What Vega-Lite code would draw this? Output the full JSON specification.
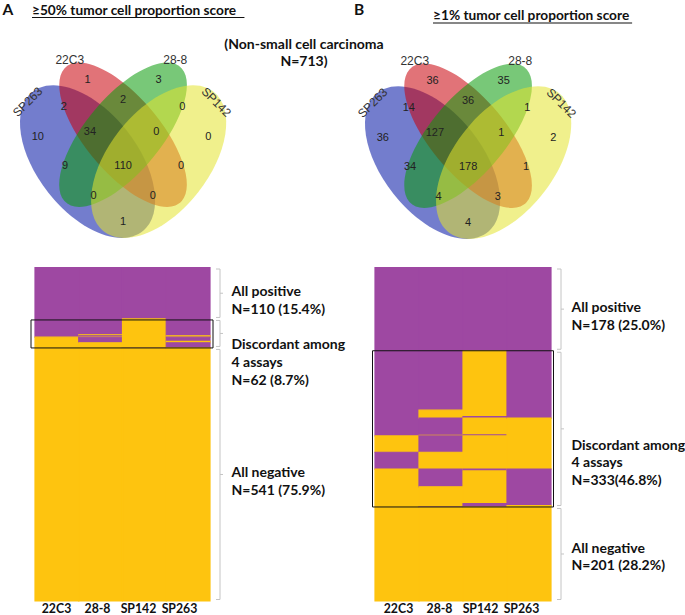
{
  "$schema": "https://vega.github.io/schema/vega-lite/v6.json",
  "width": 685,
  "height": 615,
  "autosize": {"type": "fit", "contains": "padding"},
  "padding": 0,
  "background": "white",
  "config": {"view": {"stroke": null}},
  "datasets": {
    "ellipses": [
      {"set": "SP263", "u": 0.35, "v": 0.47},
      {"set": "22C3", "u": 0.5, "v": 0.57},
      {"set": "28-8", "u": 0.5, "v": 0.57},
      {"set": "SP142", "u": 0.65, "v": 0.47}
    ],
    "counts": [
      {"region": "SP263 only", "u": 0.14, "v": 0.56, "a": 10, "b": 36},
      {"region": "22C3 only", "u": 0.35, "v": 0.775, "a": 1, "b": 36},
      {"region": "28-8 only", "u": 0.65, "v": 0.775, "a": 3, "b": 35},
      {"region": "SP142 only", "u": 0.86, "v": 0.56, "a": 0, "b": 2},
      {"region": "SP263+22C3", "u": 0.25, "v": 0.675, "a": 2, "b": 14},
      {"region": "22C3+28-8", "u": 0.5, "v": 0.7, "a": 2, "b": 36},
      {"region": "28-8+SP142", "u": 0.75, "v": 0.675, "a": 0, "b": 1},
      {"region": "SP263+22C3+28-8", "u": 0.36, "v": 0.582, "a": 34, "b": 127},
      {"region": "22C3+28-8+SP142", "u": 0.64, "v": 0.582, "a": 0, "b": 1},
      {"region": "SP263+28-8", "u": 0.255, "v": 0.452, "a": 9, "b": 34},
      {"region": "all four", "u": 0.5, "v": 0.453, "a": 110, "b": 178},
      {"region": "22C3+SP142", "u": 0.745, "v": 0.452, "a": 0, "b": 1},
      {"region": "SP263+28-8+SP142", "u": 0.375, "v": 0.34, "a": 0, "b": 4},
      {"region": "SP263+22C3+SP142", "u": 0.625, "v": 0.34, "a": 0, "b": 3},
      {"region": "SP263+SP142", "u": 0.5, "v": 0.245, "a": 1, "b": 4}
    ],
    "setLabels": [
      {"name": "22C3", "u": 0.275, "v": 0.85},
      {"name": "28-8", "u": 0.72, "v": 0.85},
      {"name": "SP263", "u": 0.097, "v": 0.692},
      {"name": "SP142", "u": 0.893, "v": 0.692}
    ],
    "cells": [
      {"panel": "A", "assay": "22C3", "start": 0, "end": 149, "status": "positive"},
      {"panel": "A", "assay": "22C3", "start": 149, "end": 713, "status": "negative"},
      {"panel": "A", "assay": "28-8", "start": 0, "end": 144, "status": "positive"},
      {"panel": "A", "assay": "28-8", "start": 144, "end": 146, "status": "negative"},
      {"panel": "A", "assay": "28-8", "start": 146, "end": 148, "status": "positive"},
      {"panel": "A", "assay": "28-8", "start": 148, "end": 149, "status": "negative"},
      {"panel": "A", "assay": "28-8", "start": 149, "end": 161, "status": "positive"},
      {"panel": "A", "assay": "28-8", "start": 161, "end": 713, "status": "negative"},
      {"panel": "A", "assay": "SP142", "start": 0, "end": 110, "status": "positive"},
      {"panel": "A", "assay": "SP142", "start": 110, "end": 171, "status": "negative"},
      {"panel": "A", "assay": "SP142", "start": 171, "end": 172, "status": "positive"},
      {"panel": "A", "assay": "SP142", "start": 172, "end": 713, "status": "negative"},
      {"panel": "A", "assay": "SP263", "start": 0, "end": 146, "status": "positive"},
      {"panel": "A", "assay": "SP263", "start": 146, "end": 149, "status": "negative"},
      {"panel": "A", "assay": "SP263", "start": 149, "end": 158, "status": "positive"},
      {"panel": "A", "assay": "SP263", "start": 158, "end": 161, "status": "negative"},
      {"panel": "A", "assay": "SP263", "start": 161, "end": 172, "status": "positive"},
      {"panel": "A", "assay": "SP263", "start": 172, "end": 713, "status": "negative"},
      {"panel": "B", "assay": "22C3", "start": 0, "end": 360, "status": "positive"},
      {"panel": "B", "assay": "22C3", "start": 360, "end": 395, "status": "negative"},
      {"panel": "B", "assay": "22C3", "start": 395, "end": 431, "status": "positive"},
      {"panel": "B", "assay": "22C3", "start": 431, "end": 713, "status": "negative"},
      {"panel": "B", "assay": "28-8", "start": 0, "end": 305, "status": "positive"},
      {"panel": "B", "assay": "28-8", "start": 305, "end": 322, "status": "negative"},
      {"panel": "B", "assay": "28-8", "start": 322, "end": 359, "status": "positive"},
      {"panel": "B", "assay": "28-8", "start": 359, "end": 360, "status": "negative"},
      {"panel": "B", "assay": "28-8", "start": 360, "end": 395, "status": "positive"},
      {"panel": "B", "assay": "28-8", "start": 395, "end": 431, "status": "negative"},
      {"panel": "B", "assay": "28-8", "start": 431, "end": 469, "status": "positive"},
      {"panel": "B", "assay": "28-8", "start": 469, "end": 511, "status": "negative"},
      {"panel": "B", "assay": "28-8", "start": 511, "end": 512, "status": "positive"},
      {"panel": "B", "assay": "28-8", "start": 512, "end": 713, "status": "negative"},
      {"panel": "B", "assay": "SP142", "start": 0, "end": 178, "status": "positive"},
      {"panel": "B", "assay": "SP142", "start": 178, "end": 319, "status": "negative"},
      {"panel": "B", "assay": "SP142", "start": 319, "end": 322, "status": "positive"},
      {"panel": "B", "assay": "SP142", "start": 322, "end": 358, "status": "negative"},
      {"panel": "B", "assay": "SP142", "start": 358, "end": 360, "status": "positive"},
      {"panel": "B", "assay": "SP142", "start": 360, "end": 431, "status": "negative"},
      {"panel": "B", "assay": "SP142", "start": 431, "end": 435, "status": "positive"},
      {"panel": "B", "assay": "SP142", "start": 435, "end": 505, "status": "negative"},
      {"panel": "B", "assay": "SP142", "start": 505, "end": 512, "status": "positive"},
      {"panel": "B", "assay": "SP142", "start": 512, "end": 713, "status": "negative"},
      {"panel": "B", "assay": "SP263", "start": 0, "end": 322, "status": "positive"},
      {"panel": "B", "assay": "SP263", "start": 322, "end": 431, "status": "negative"},
      {"panel": "B", "assay": "SP263", "start": 431, "end": 509, "status": "positive"},
      {"panel": "B", "assay": "SP263", "start": 509, "end": 713, "status": "negative"}
    ],
    "groups": [
      {"panel": "A", "group": "pos", "start": 0, "end": 110, "mid": 55, "labelAt": 52.4, "label": ["All positive", "N=110 (15.4%)"]},
      {"panel": "A", "group": "disc", "start": 110, "end": 172, "mid": 141, "labelAt": 165.7, "label": ["Discordant among", "4 assays", "N=62 (8.7%)"]},
      {"panel": "A", "group": "neg", "start": 172, "end": 713, "mid": 442.5, "labelAt": 440, "label": ["All negative", "N=541 (75.9%)"]},
      {"panel": "B", "group": "pos", "start": 0, "end": 178, "mid": 89, "labelAt": 86.6, "label": ["All positive", "N=178 (25.0%)"]},
      {"panel": "B", "group": "disc", "start": 178, "end": 512, "mid": 345, "labelAt": 381.6, "label": ["Discordant among", "4 assays", "N=333(46.8%)"]},
      {"panel": "B", "group": "neg", "start": 512, "end": 713, "mid": 612.5, "labelAt": 601.8, "label": ["All negative", "N=201 (28.2%)"]}
    ],
    "assays": [{"assay": "22C3"}, {"assay": "28-8"}, {"assay": "SP142"}, {"assay": "SP263"}]
  },
  "layer": [
    {
      "data": {"name": "ellipses"},
      "mark": {"type": "point", "filled": true, "size": 4, "opacity": 1, "fillOpacity": 0.55, "strokeWidth": 0},
      "encoding": {
        "x": {"field": "u", "type": "quantitative", "scale": {"domain": [0, 1], "range": [4.6, 241.6], "nice": false, "zero": false}, "axis": null},
        "y": {"field": "v", "type": "quantitative", "scale": {"domain": [0, 1], "range": [287.5, 19.5], "nice": false, "zero": false}, "axis": null},
        "color": {"field": "set", "type": "nominal", "scale": {"domain": ["SP263", "22C3", "28-8", "SP142"], "range": ["#0012a4", "#c8000a", "#0a9b0a", "#e4e42e"]}, "legend": null},
        "shape": {"field": "set", "type": "nominal", "scale": {"domain": ["SP263", "22C3", "28-8", "SP142"], "range": [
          "M-58.66,-66.33C-77.17,-45.4,-65.92,1.27,-33.52,37.9C-1.12,74.53,40.15,87.26,58.66,66.33C77.17,45.4,65.92,-1.27,33.52,-37.9C1.12,-74.53,-40.15,-87.26,-58.66,-66.33Z",
          "M-58.66,-66.33C-72.54,-50.63,-57.54,-8.2,-25.14,28.43C7.26,65.06,44.78,82.03,58.66,66.33C72.54,50.63,57.54,8.2,25.14,-28.43C-7.26,-65.06,-44.78,-82.03,-58.66,-66.33Z",
          "M58.66,-66.33C72.54,-50.63,57.54,-8.2,25.14,28.43C-7.26,65.06,-44.78,82.03,-58.66,66.33C-72.54,50.63,-57.54,8.2,-25.14,-28.43C7.26,-65.06,44.78,-82.03,58.66,-66.33Z",
          "M58.66,-66.33C77.17,-45.4,65.92,1.27,33.52,37.9C1.12,74.53,-40.15,87.26,-58.66,66.33C-77.17,45.4,-65.92,-1.27,-33.52,-37.9C-1.12,-74.53,40.15,-87.26,58.66,-66.33Z"
        ]}, "legend": null}
      }
    },
    {
      "data": {"name": "ellipses"},
      "mark": {"type": "point", "filled": true, "size": 4, "opacity": 1, "fillOpacity": 0.55, "strokeWidth": 0},
      "encoding": {
        "x": {"field": "u", "type": "quantitative", "scale": {"domain": [0, 1], "range": [349.6, 586.6], "nice": false, "zero": false}, "axis": null},
        "y": {"field": "v", "type": "quantitative", "scale": {"domain": [0, 1], "range": [288.5, 20.5], "nice": false, "zero": false}, "axis": null},
        "color": {"field": "set", "type": "nominal", "scale": {"domain": ["SP263", "22C3", "28-8", "SP142"], "range": ["#0012a4", "#c8000a", "#0a9b0a", "#e4e42e"]}, "legend": null},
        "shape": {"field": "set", "type": "nominal", "scale": {"domain": ["SP263", "22C3", "28-8", "SP142"], "range": [
          "M-58.66,-66.33C-77.17,-45.4,-65.92,1.27,-33.52,37.9C-1.12,74.53,40.15,87.26,58.66,66.33C77.17,45.4,65.92,-1.27,33.52,-37.9C1.12,-74.53,-40.15,-87.26,-58.66,-66.33Z",
          "M-58.66,-66.33C-72.54,-50.63,-57.54,-8.2,-25.14,28.43C7.26,65.06,44.78,82.03,58.66,66.33C72.54,50.63,57.54,8.2,25.14,-28.43C-7.26,-65.06,-44.78,-82.03,-58.66,-66.33Z",
          "M58.66,-66.33C72.54,-50.63,57.54,-8.2,25.14,28.43C-7.26,65.06,-44.78,82.03,-58.66,66.33C-72.54,50.63,-57.54,8.2,-25.14,-28.43C7.26,-65.06,44.78,-82.03,58.66,-66.33Z",
          "M58.66,-66.33C77.17,-45.4,65.92,1.27,33.52,37.9C1.12,74.53,-40.15,87.26,-58.66,66.33C-77.17,45.4,-65.92,-1.27,-33.52,-37.9C-1.12,-74.53,40.15,-87.26,58.66,-66.33Z"
        ]}, "legend": null}
      }
    },
    {
      "data": {"name": "counts"},
      "mark": {"type": "text", "font": "Liberation Sans", "fontSize": 11, "color": "#222", "align": "center", "baseline": "middle"},
      "encoding": {
        "x": {"field": "u", "type": "quantitative", "scale": {"domain": [0, 1], "range": [4.6, 241.6], "nice": false, "zero": false}, "axis": null},
        "y": {"field": "v", "type": "quantitative", "scale": {"domain": [0, 1], "range": [287.5, 19.5], "nice": false, "zero": false}, "axis": null},
        "text": {"field": "a", "type": "quantitative"}
      }
    },
    {
      "data": {"name": "counts"},
      "mark": {"type": "text", "font": "Liberation Sans", "fontSize": 11, "color": "#222", "align": "center", "baseline": "middle"},
      "encoding": {
        "x": {"field": "u", "type": "quantitative", "scale": {"domain": [0, 1], "range": [349.6, 586.6], "nice": false, "zero": false}, "axis": null},
        "y": {"field": "v", "type": "quantitative", "scale": {"domain": [0, 1], "range": [288.5, 20.5], "nice": false, "zero": false}, "axis": null},
        "text": {"field": "b", "type": "quantitative"}
      }
    },
    {
      "data": {"name": "setLabels"},
      "transform": [{"filter": "datum.name === '22C3' || datum.name === '28-8'"}],
      "mark": {"type": "text", "font": "Liberation Sans", "fontSize": 12, "color": "#333", "align": "center", "baseline": "middle"},
      "encoding": {
        "x": {"field": "u", "type": "quantitative", "scale": {"domain": [0, 1], "range": [4.6, 241.6], "nice": false, "zero": false}, "axis": null},
        "y": {"field": "v", "type": "quantitative", "scale": {"domain": [0, 1], "range": [287.5, 19.5], "nice": false, "zero": false}, "axis": null},
        "text": {"field": "name"}
      }
    },
    {
      "data": {"name": "setLabels"},
      "transform": [{"filter": "datum.name === 'SP263'"}],
      "mark": {"type": "text", "font": "Liberation Sans", "fontSize": 12, "color": "#333", "align": "center", "baseline": "middle", "angle": 315},
      "encoding": {
        "x": {"field": "u", "type": "quantitative", "scale": {"domain": [0, 1], "range": [4.6, 241.6], "nice": false, "zero": false}, "axis": null},
        "y": {"field": "v", "type": "quantitative", "scale": {"domain": [0, 1], "range": [287.5, 19.5], "nice": false, "zero": false}, "axis": null},
        "text": {"field": "name"}
      }
    },
    {
      "data": {"name": "setLabels"},
      "transform": [{"filter": "datum.name === 'SP142'"}],
      "mark": {"type": "text", "font": "Liberation Sans", "fontSize": 12, "color": "#333", "align": "center", "baseline": "middle", "angle": 45},
      "encoding": {
        "x": {"field": "u", "type": "quantitative", "scale": {"domain": [0, 1], "range": [4.6, 241.6], "nice": false, "zero": false}, "axis": null},
        "y": {"field": "v", "type": "quantitative", "scale": {"domain": [0, 1], "range": [287.5, 19.5], "nice": false, "zero": false}, "axis": null},
        "text": {"field": "name"}
      }
    },
    {
      "data": {"name": "setLabels"},
      "transform": [{"filter": "datum.name === '22C3' || datum.name === '28-8'"}],
      "mark": {"type": "text", "font": "Liberation Sans", "fontSize": 12, "color": "#333", "align": "center", "baseline": "middle"},
      "encoding": {
        "x": {"field": "u", "type": "quantitative", "scale": {"domain": [0, 1], "range": [349.6, 586.6], "nice": false, "zero": false}, "axis": null},
        "y": {"field": "v", "type": "quantitative", "scale": {"domain": [0, 1], "range": [288.5, 20.5], "nice": false, "zero": false}, "axis": null},
        "text": {"field": "name"}
      }
    },
    {
      "data": {"name": "setLabels"},
      "transform": [{"filter": "datum.name === 'SP263'"}],
      "mark": {"type": "text", "font": "Liberation Sans", "fontSize": 12, "color": "#333", "align": "center", "baseline": "middle", "angle": 315},
      "encoding": {
        "x": {"field": "u", "type": "quantitative", "scale": {"domain": [0, 1], "range": [349.6, 586.6], "nice": false, "zero": false}, "axis": null},
        "y": {"field": "v", "type": "quantitative", "scale": {"domain": [0, 1], "range": [288.5, 20.5], "nice": false, "zero": false}, "axis": null},
        "text": {"field": "name"}
      }
    },
    {
      "data": {"name": "setLabels"},
      "transform": [{"filter": "datum.name === 'SP142'"}],
      "mark": {"type": "text", "font": "Liberation Sans", "fontSize": 12, "color": "#333", "align": "center", "baseline": "middle", "angle": 45},
      "encoding": {
        "x": {"field": "u", "type": "quantitative", "scale": {"domain": [0, 1], "range": [349.6, 586.6], "nice": false, "zero": false}, "axis": null},
        "y": {"field": "v", "type": "quantitative", "scale": {"domain": [0, 1], "range": [288.5, 20.5], "nice": false, "zero": false}, "axis": null},
        "text": {"field": "name"}
      }
    },
    {
      "data": {"values": [{}]},
      "mark": {"type": "text", "text": "A", "font": "Lato", "fontWeight": "bold", "fontSize": 15.5, "color": "#111", "align": "center", "baseline": "middle"},
      "encoding": {
        "x": {"datum": 0.0143, "type": "quantitative", "scale": {"domain": [0, 1], "range": [4.6, 241.6], "nice": false, "zero": false}, "axis": null},
        "y": {"datum": 1.0355, "type": "quantitative", "scale": {"domain": [0, 1], "range": [287.5, 19.5], "nice": false, "zero": false}, "axis": null}
      }
    },
    {
      "data": {"values": [{}]},
      "mark": {"type": "text", "text": "≥50% tumor cell proportion score", "font": "Lato", "fontWeight": "bold", "fontSize": 13.7, "color": "#111", "align": "left", "baseline": "middle"},
      "encoding": {
        "x": {"datum": 0.1156, "type": "quantitative", "scale": {"domain": [0, 1], "range": [4.6, 241.6], "nice": false, "zero": false}, "axis": null},
        "y": {"datum": 1.0317, "type": "quantitative", "scale": {"domain": [0, 1], "range": [287.5, 19.5], "nice": false, "zero": false}, "axis": null}
      }
    },
    {
      "data": {"values": [{}]},
      "mark": {"type": "rule", "color": "#111", "strokeWidth": 1.2},
      "encoding": {
        "x": {"datum": 0.1156, "type": "quantitative", "scale": {"domain": [0, 1], "range": [4.6, 241.6], "nice": false, "zero": false}, "axis": null},
        "x2": {"datum": 1.012},
        "y": {"datum": 1.0075, "type": "quantitative", "scale": {"domain": [0, 1], "range": [287.5, 19.5], "nice": false, "zero": false}, "axis": null}
      }
    },
    {
      "data": {"values": [{}]},
      "mark": {"type": "text", "text": ["(Non-small cell carcinoma", "N=713)"], "font": "Lato", "fontWeight": "bold", "fontSize": 14, "lineHeight": 17, "color": "#111", "align": "center", "baseline": "middle"},
      "encoding": {
        "x": {"datum": 1.2633, "type": "quantitative", "scale": {"domain": [0, 1], "range": [4.6, 241.6], "nice": false, "zero": false}, "axis": null},
        "y": {"datum": 0.9067, "type": "quantitative", "scale": {"domain": [0, 1], "range": [287.5, 19.5], "nice": false, "zero": false}, "axis": null}
      }
    },
    {
      "data": {"values": [{}]},
      "mark": {"type": "text", "text": "B", "font": "Lato", "fontWeight": "bold", "fontSize": 15.5, "color": "#111", "align": "center", "baseline": "middle"},
      "encoding": {
        "x": {"datum": 0.0397, "type": "quantitative", "scale": {"domain": [0, 1], "range": [349.6, 586.6], "nice": false, "zero": false}, "axis": null},
        "y": {"datum": 1.0392, "type": "quantitative", "scale": {"domain": [0, 1], "range": [288.5, 20.5], "nice": false, "zero": false}, "axis": null}
      }
    },
    {
      "data": {"values": [{}]},
      "mark": {"type": "text", "text": "≥1% tumor cell proportion score", "font": "Lato", "fontWeight": "bold", "fontSize": 13.7, "color": "#111", "align": "left", "baseline": "middle"},
      "encoding": {
        "x": {"datum": 0.3519, "type": "quantitative", "scale": {"domain": [0, 1], "range": [349.6, 586.6], "nice": false, "zero": false}, "axis": null},
        "y": {"datum": 1.0168, "type": "quantitative", "scale": {"domain": [0, 1], "range": [288.5, 20.5], "nice": false, "zero": false}, "axis": null}
      }
    },
    {
      "data": {"values": [{}]},
      "mark": {"type": "rule", "color": "#111", "strokeWidth": 1.2},
      "encoding": {
        "x": {"datum": 0.3519, "type": "quantitative", "scale": {"domain": [0, 1], "range": [349.6, 586.6], "nice": false, "zero": false}, "axis": null},
        "x2": {"datum": 1.192},
        "y": {"datum": 0.9907, "type": "quantitative", "scale": {"domain": [0, 1], "range": [288.5, 20.5], "nice": false, "zero": false}, "axis": null}
      }
    },
    {
      "data": {"name": "cells"},
      "transform": [{"filter": "datum.panel === 'A'"}],
      "mark": {"type": "rect", "strokeWidth": 1.2},
      "encoding": {
        "x": {"field": "assay", "type": "nominal", "scale": {"domain": ["22C3", "28-8", "SP142", "SP263"], "range": [35, 210], "paddingInner": 0, "paddingOuter": 0}, "axis": null},
        "y": {"field": "start", "type": "quantitative", "scale": {"domain": [0, 713], "range": [267.5, 601], "nice": false, "zero": false}, "axis": null},
        "y2": {"field": "end"},
        "color": {"field": "status", "type": "nominal", "scale": {"domain": ["positive", "negative"], "range": ["#9e48a2", "#fec40f"]}, "legend": null},
        "stroke": {"field": "status", "type": "nominal", "scale": {"domain": ["positive", "negative"], "range": ["#9e48a2", "#fec40f"]}, "legend": null}
      }
    },
    {
      "data": {"name": "cells"},
      "transform": [{"filter": "datum.panel === 'B'"}],
      "mark": {"type": "rect", "strokeWidth": 1.2},
      "encoding": {
        "x": {"field": "assay", "type": "nominal", "scale": {"domain": ["22C3", "28-8", "SP142", "SP263"], "range": [375, 551], "paddingInner": 0, "paddingOuter": 0}, "axis": null},
        "y": {"field": "start", "type": "quantitative", "scale": {"domain": [0, 713], "range": [267.5, 601], "nice": false, "zero": false}, "axis": null},
        "y2": {"field": "end"},
        "color": {"field": "status", "type": "nominal", "scale": {"domain": ["positive", "negative"], "range": ["#9e48a2", "#fec40f"]}, "legend": null},
        "stroke": {"field": "status", "type": "nominal", "scale": {"domain": ["positive", "negative"], "range": ["#9e48a2", "#fec40f"]}, "legend": null}
      }
    },
    {
      "data": {"name": "assays"},
      "mark": {"type": "text", "font": "Lato", "fontWeight": "bold", "fontSize": 12.3, "color": "#111", "align": "center", "baseline": "middle", "dy": 7.5},
      "encoding": {
        "x": {"field": "assay", "type": "nominal", "scale": {"domain": ["22C3", "28-8", "SP142", "SP263"], "range": [36, 200], "paddingInner": 0, "paddingOuter": 0}, "axis": null},
        "y": {"datum": 713, "type": "quantitative", "scale": {"domain": [0, 713], "range": [267.5, 601], "nice": false, "zero": false}, "axis": null},
        "text": {"field": "assay"}
      }
    },
    {
      "data": {"name": "assays"},
      "mark": {"type": "text", "font": "Lato", "fontWeight": "bold", "fontSize": 12.3, "color": "#111", "align": "center", "baseline": "middle", "dy": 7.5},
      "encoding": {
        "x": {"field": "assay", "type": "nominal", "scale": {"domain": ["22C3", "28-8", "SP142", "SP263"], "range": [378, 542], "paddingInner": 0, "paddingOuter": 0}, "axis": null},
        "y": {"datum": 713, "type": "quantitative", "scale": {"domain": [0, 713], "range": [267.5, 601], "nice": false, "zero": false}, "axis": null},
        "text": {"field": "assay"}
      }
    },
    {
      "data": {"name": "groups"},
      "transform": [{"filter": "datum.panel === 'A' && datum.group === 'disc'"}],
      "mark": {"type": "rect", "fillOpacity": 0, "stroke": "#111", "strokeWidth": 1, "xOffset": -4, "x2Offset": 3, "yOffset": 1},
      "encoding": {
        "x": {"datum": 0, "type": "quantitative", "scale": {"domain": [0, 4], "range": [35, 210], "nice": false, "zero": false}, "axis": null},
        "x2": {"datum": 4},
        "y": {"field": "start", "type": "quantitative", "scale": {"domain": [0, 713], "range": [267.5, 601], "nice": false, "zero": false}, "axis": null},
        "y2": {"field": "end"}
      }
    },
    {
      "data": {"name": "groups"},
      "transform": [{"filter": "datum.panel === 'B' && datum.group === 'disc'"}],
      "mark": {"type": "rect", "fillOpacity": 0, "stroke": "#111", "strokeWidth": 1, "xOffset": -2.5, "x2Offset": 2.5},
      "encoding": {
        "x": {"datum": 0, "type": "quantitative", "scale": {"domain": [0, 4], "range": [375, 551], "nice": false, "zero": false}, "axis": null},
        "x2": {"datum": 4},
        "y": {"field": "start", "type": "quantitative", "scale": {"domain": [0, 713], "range": [267.5, 601], "nice": false, "zero": false}, "axis": null},
        "y2": {"field": "end"}
      }
    },
    {
      "data": {"name": "groups"},
      "transform": [{"filter": "datum.panel === 'A'"}],
      "mark": {"type": "rule", "color": "#c4c4c4", "strokeWidth": 1, "xOffset": 10, "yOffset": 1.5, "y2Offset": -1.5},
      "encoding": {
        "x": {"datum": 4, "type": "quantitative", "scale": {"domain": [0, 4], "range": [35, 210], "nice": false, "zero": false}, "axis": null},
        "y": {"field": "start", "type": "quantitative", "scale": {"domain": [0, 713], "range": [267.5, 601], "nice": false, "zero": false}, "axis": null},
        "y2": {"field": "end"}
      }
    },
    {
      "data": {"name": "groups"},
      "transform": [{"filter": "datum.panel === 'A'"}],
      "mark": {"type": "rule", "color": "#c4c4c4", "strokeWidth": 1, "xOffset": 6, "x2Offset": 10, "yOffset": 1.5},
      "encoding": {
        "x": {"datum": 4, "type": "quantitative", "scale": {"domain": [0, 4], "range": [35, 210], "nice": false, "zero": false}, "axis": null},
        "x2": {"datum": 4},
        "y": {"field": "start", "type": "quantitative", "scale": {"domain": [0, 713], "range": [267.5, 601], "nice": false, "zero": false}, "axis": null}
      }
    },
    {
      "data": {"name": "groups"},
      "transform": [{"filter": "datum.panel === 'A'"}],
      "mark": {"type": "rule", "color": "#c4c4c4", "strokeWidth": 1, "xOffset": 6, "x2Offset": 10, "yOffset": -1.5},
      "encoding": {
        "x": {"datum": 4, "type": "quantitative", "scale": {"domain": [0, 4], "range": [35, 210], "nice": false, "zero": false}, "axis": null},
        "x2": {"datum": 4},
        "y": {"field": "end", "type": "quantitative", "scale": {"domain": [0, 713], "range": [267.5, 601], "nice": false, "zero": false}, "axis": null}
      }
    },
    {
      "data": {"name": "groups"},
      "transform": [{"filter": "datum.panel === 'A'"}],
      "mark": {"type": "rule", "color": "#c4c4c4", "strokeWidth": 1, "xOffset": 10, "x2Offset": 13},
      "encoding": {
        "x": {"datum": 4, "type": "quantitative", "scale": {"domain": [0, 4], "range": [35, 210], "nice": false, "zero": false}, "axis": null},
        "x2": {"datum": 4},
        "y": {"field": "mid", "type": "quantitative", "scale": {"domain": [0, 713], "range": [267.5, 601], "nice": false, "zero": false}, "axis": null}
      }
    },
    {
      "data": {"name": "groups"},
      "transform": [{"filter": "datum.panel === 'A'"}],
      "mark": {"type": "text", "font": "Lato", "fontWeight": "bold", "fontSize": 14, "lineHeight": 18, "color": "#111", "align": "left", "baseline": "middle", "xOffset": 21.5},
      "encoding": {
        "x": {"datum": 4, "type": "quantitative", "scale": {"domain": [0, 4], "range": [35, 210], "nice": false, "zero": false}, "axis": null},
        "y": {"field": "labelAt", "type": "quantitative", "scale": {"domain": [0, 713], "range": [267.5, 601], "nice": false, "zero": false}, "axis": null},
        "text": {"field": "label"}
      }
    },
    {
      "data": {"name": "groups"},
      "transform": [{"filter": "datum.panel === 'B'"}],
      "mark": {"type": "rule", "color": "#c4c4c4", "strokeWidth": 1, "xOffset": 10, "yOffset": 1.5, "y2Offset": -1.5},
      "encoding": {
        "x": {"datum": 4, "type": "quantitative", "scale": {"domain": [0, 4], "range": [375, 551], "nice": false, "zero": false}, "axis": null},
        "y": {"field": "start", "type": "quantitative", "scale": {"domain": [0, 713], "range": [267.5, 601], "nice": false, "zero": false}, "axis": null},
        "y2": {"field": "end"}
      }
    },
    {
      "data": {"name": "groups"},
      "transform": [{"filter": "datum.panel === 'B'"}],
      "mark": {"type": "rule", "color": "#c4c4c4", "strokeWidth": 1, "xOffset": 6, "x2Offset": 10, "yOffset": 1.5},
      "encoding": {
        "x": {"datum": 4, "type": "quantitative", "scale": {"domain": [0, 4], "range": [375, 551], "nice": false, "zero": false}, "axis": null},
        "x2": {"datum": 4},
        "y": {"field": "start", "type": "quantitative", "scale": {"domain": [0, 713], "range": [267.5, 601], "nice": false, "zero": false}, "axis": null}
      }
    },
    {
      "data": {"name": "groups"},
      "transform": [{"filter": "datum.panel === 'B'"}],
      "mark": {"type": "rule", "color": "#c4c4c4", "strokeWidth": 1, "xOffset": 6, "x2Offset": 10, "yOffset": -1.5},
      "encoding": {
        "x": {"datum": 4, "type": "quantitative", "scale": {"domain": [0, 4], "range": [375, 551], "nice": false, "zero": false}, "axis": null},
        "x2": {"datum": 4},
        "y": {"field": "end", "type": "quantitative", "scale": {"domain": [0, 713], "range": [267.5, 601], "nice": false, "zero": false}, "axis": null}
      }
    },
    {
      "data": {"name": "groups"},
      "transform": [{"filter": "datum.panel === 'B'"}],
      "mark": {"type": "rule", "color": "#c4c4c4", "strokeWidth": 1, "xOffset": 10, "x2Offset": 13},
      "encoding": {
        "x": {"datum": 4, "type": "quantitative", "scale": {"domain": [0, 4], "range": [375, 551], "nice": false, "zero": false}, "axis": null},
        "x2": {"datum": 4},
        "y": {"field": "mid", "type": "quantitative", "scale": {"domain": [0, 713], "range": [267.5, 601], "nice": false, "zero": false}, "axis": null}
      }
    },
    {
      "data": {"name": "groups"},
      "transform": [{"filter": "datum.panel === 'B'"}],
      "mark": {"type": "text", "font": "Lato", "fontWeight": "bold", "fontSize": 14, "lineHeight": 17.5, "color": "#111", "align": "left", "baseline": "middle", "xOffset": 20.5},
      "encoding": {
        "x": {"datum": 4, "type": "quantitative", "scale": {"domain": [0, 4], "range": [375, 551], "nice": false, "zero": false}, "axis": null},
        "y": {"field": "labelAt", "type": "quantitative", "scale": {"domain": [0, 713], "range": [267.5, 601], "nice": false, "zero": false}, "axis": null},
        "text": {"field": "label"}
      }
    }
  ],
  "resolve": {"scale": {"x": "independent", "y": "independent", "color": "independent", "shape": "independent", "stroke": "independent"}}
}
